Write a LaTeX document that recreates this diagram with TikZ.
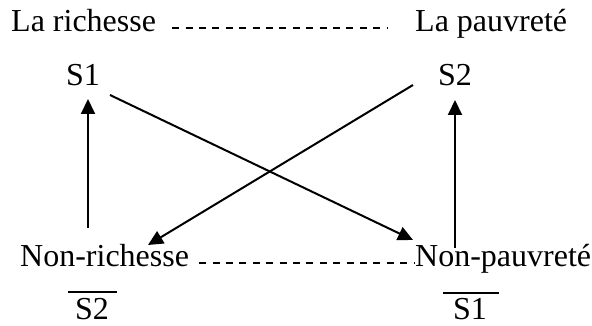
\documentclass[tikz,border=0pt]{standalone}
\usepackage{fontspec}
\setmainfont{Liberation Serif}
\usetikzlibrary{arrows.meta}
\begin{document}
\begin{tikzpicture}[x=1pt,y=-1pt,
  lbl/.style={anchor=base west,inner sep=0pt,font=\fontsize{32}{36}\selectfont},
  arr/.style={line width=2pt,-{Triangle[length=15pt,width=14pt]}},
  dsh/.style={line width=1.2pt,dash pattern=on 7pt off 6.4pt},
  bar/.style={line width=1.2pt}]
\useasboundingbox (0,0) rectangle (592,326);
% texts
\node[lbl] (lr) at (11,32) {La richesse};
\node[lbl] (lp) at (415,32) {La pauvreté};
\node[lbl] (s1) at (66,86) {S1};
\node[lbl] (s2) at (438,86) {S2};
\node[lbl] (nr) at (20,266) {Non-richesse};
\node[lbl] (np) at (415,266) {Non-pauvreté};
\node[lbl] (bs2) at (75,319) {S2};
\node[lbl] (bs1) at (453,319) {S1};
% dashed lines
\draw[dsh] ([xshift=16pt,yshift=4pt]lr.base east) -- ([xshift=-27pt,yshift=4pt]lp.base west);
\draw[dsh] ([xshift=10pt,yshift=3pt]nr.base east) -- ([yshift=3pt]np.base west);
% overlines
\draw[bar] ([xshift=-7pt,yshift=27pt]bs2.base west) -- ([xshift=8pt,yshift=27pt]bs2.base east);
\draw[bar] ([xshift=-10pt,yshift=26pt]bs1.base west) -- ([xshift=12pt,yshift=26pt]bs1.base east);
% arrow end points
\coordinate (a1) at (88,228);  \coordinate (a1t) at (88,99);
\coordinate (b1) at (110,95);  \coordinate (b1t) at (413,240);
\coordinate (c1) at (413,85);  \coordinate (c1t) at (148,245);
\coordinate (d1) at (455,248); \coordinate (d1t) at (455,100);
\draw[arr] (a1) -- (a1t);
\draw[arr] (b1) -- (b1t);
\draw[arr] (c1) -- (c1t);
\draw[arr] (d1) -- (d1t);
\end{tikzpicture}
\end{document}
